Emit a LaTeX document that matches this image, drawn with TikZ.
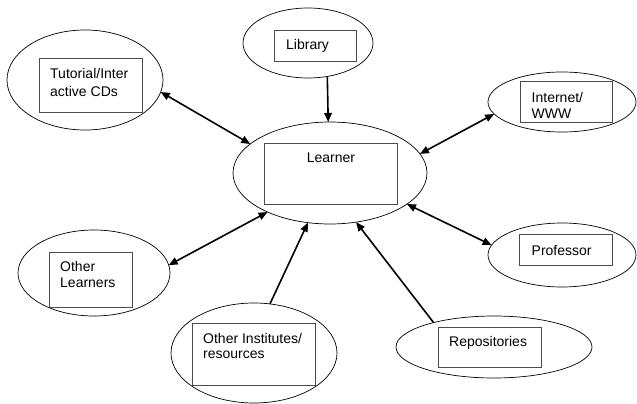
\documentclass[tikz,border=0pt]{standalone}
\usepackage{fontspec}
\setmainfont{Liberation Sans}
\usetikzlibrary{shapes.geometric,arrows.meta}
\tikzset{
  ell/.style={draw=black, line width=0.7pt, ellipse, inner sep=0pt, outer sep=0pt},
  box/.style={draw=black!70, line width=0.8pt, rectangle, inner sep=0pt, outer sep=0pt},
  lbl/.style={anchor=base west, inner sep=0pt, align=left, font=\fontsize{14}{16}\selectfont},
  conn/.style={line width=1.6pt, -{Triangle[length=9pt,width=7.5pt]}},
  dconn/.style={line width=1.6pt, {Triangle[length=9pt,width=7.5pt]}-{Triangle[length=9pt,width=7.5pt]}}
}
\begin{document}
\begin{tikzpicture}[x=1pt,y=-1pt]
\useasboundingbox (0,0) rectangle (637,404);
% ellipses
\node[ell, minimum width=156pt, minimum height=100pt] (tut) at (85,80) {};
\node[ell, minimum width=130pt, minimum height=70pt] (lib) at (308,43) {};
\node[ell, minimum width=148pt, minimum height=60pt] (int) at (562,102) {};
\node[ell, minimum width=194pt, minimum height=102pt] (lrn) at (330,173) {};
\node[ell, minimum width=152pt, minimum height=86pt] (oth) at (94,273) {};
\node[ell, minimum width=166pt, minimum height=100pt] (ins) at (254,353) {};
\node[ell, minimum width=196pt, minimum height=62pt] (rep) at (494,347) {};
\node[ell, minimum width=148pt, minimum height=64pt] (pro) at (562,255) {};
% boxes
\node[box, minimum width=103pt, minimum height=54pt] (tutb) at (90.5,85) {};
\node[box, minimum width=82pt, minimum height=31pt] (libb) at (315,45.5) {};
\node[box, minimum width=92pt, minimum height=41pt] (intb) at (566,101.5) {};
\node[box, minimum width=133pt, minimum height=61pt] (lrnb) at (330.5,173.5) {};
\node[box, minimum width=83pt, minimum height=55pt] (othb) at (90.5,279.5) {};
\node[box, minimum width=123pt, minimum height=62pt] (insb) at (253.5,354) {};
\node[box, minimum width=103pt, minimum height=40pt] (repb) at (489.5,347) {};
\node[box, minimum width=93pt, minimum height=31pt] (prob) at (565.5,249.5) {};
% labels (multi-line: anchor at last baseline)
\node[lbl, font=\fontsize{14}{18.5}\selectfont] (tutt) at (50,96.5) {Tutorial/Inter\\active CDs};
\node[lbl] (libt) at (286,49.5) {Library};
\node[lbl] (intt) at (531.5,118) {Internet/\\WWW};
\node[lbl, anchor=base] (lrnt) at (331,162.5) {Learner};
\node[lbl] (otht) at (60,287) {Other\\Learners};
\node[lbl, font=\fontsize{14}{15}\selectfont] (inst) at (203,358.5) {Other Institutes/\\resources};
\node[lbl] (rept) at (449,346.7) {Repositories};
\node[lbl] (prot) at (531.5,255) {Professor};
% connectors
\draw[dconn] (tut.-9) -- (lrn.160);
\draw[conn] (lib.-60) -- (lrn.92);
\draw[dconn] (int.190) -- (lrn.12);
\draw[dconn] (pro.172) -- (lrn.-22);
\draw[dconn] (oth.6) -- (lrn.212);
\draw[conn] (ins.72) -- (lrn.246);
\draw[conn] (rep.158) -- (lrn.-62);
\end{tikzpicture}
\end{document}
